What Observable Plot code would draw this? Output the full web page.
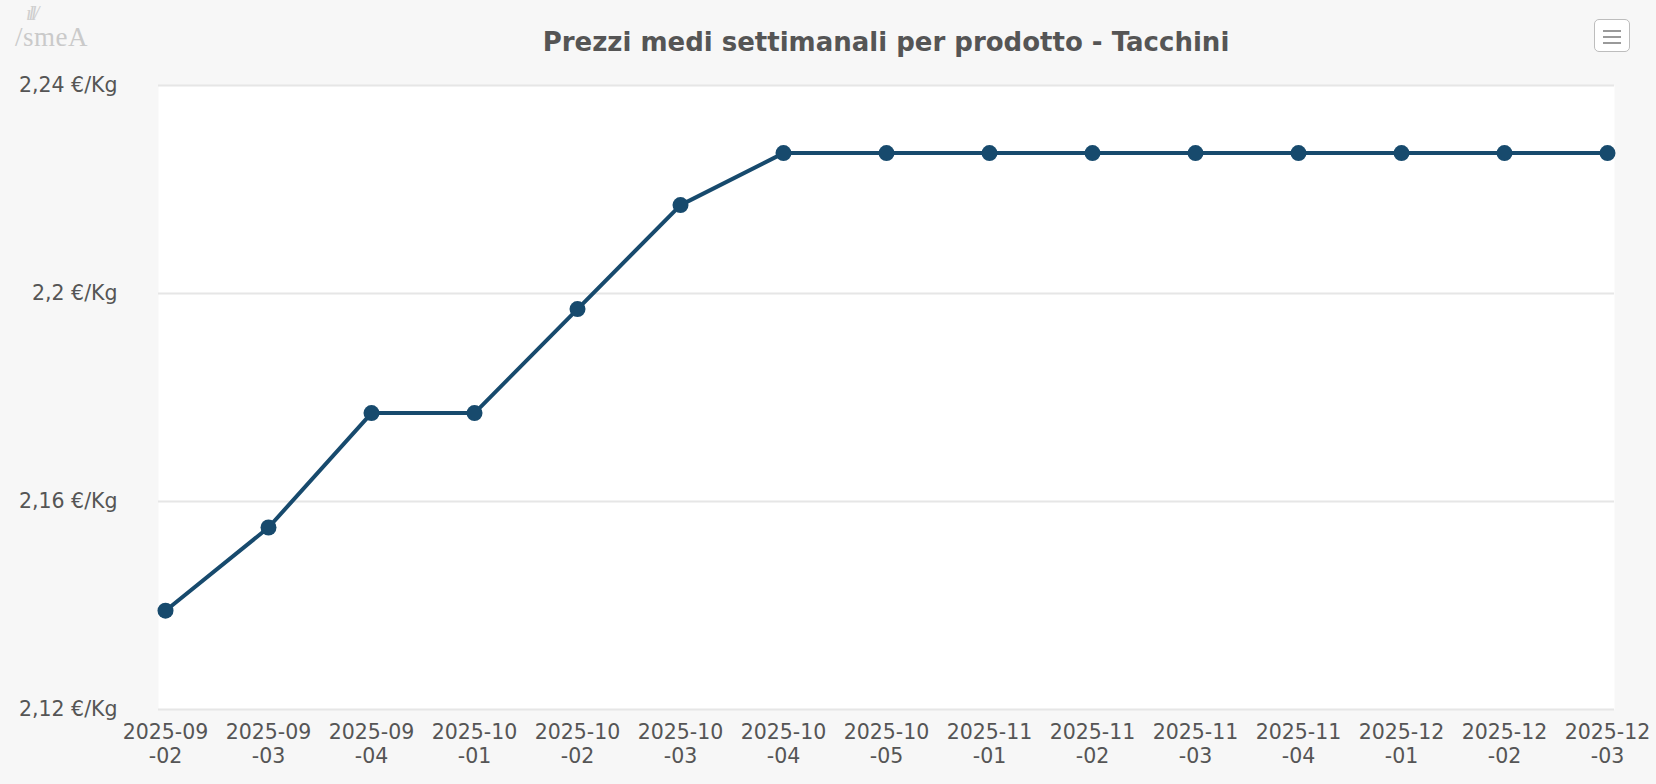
<!DOCTYPE html>
<html>
<head>
<meta charset="utf-8">
<script src="https://cdn.jsdelivr.net/npm/d3@7"></script>
<script src="https://cdn.jsdelivr.net/npm/@observablehq/plot@0.6"></script>
<style>
  html, body { margin: 0; padding: 0; background: #f7f7f7; }
  #page { position: relative; width: 1656px; height: 784px; overflow: hidden; font-family: "DejaVu Sans", Verdana, sans-serif; }
  #header { position: relative; height: 60px; }
  #title { position: absolute; left: 158px; width: 1456px; top: 27px; line-height: 30px; margin: 0;
           text-align: center; font-size: 26px; font-weight: bold; color: #555; white-space: nowrap; }
  #logo { position: absolute; left: 15px; top: 22px; font-family: "Liberation Serif", serif; font-size: 27px;
          color: #cacaca; letter-spacing: 0.5px; }
  #logo-mark { position: absolute; left: 26px; top: 2px; font-size: 20px; color: #cfcfcf; font-style: italic; letter-spacing: -3px;
               font-family: "Liberation Serif", serif; }
  #menu { position: absolute; left: 1594px; top: 19px; width: 34px; height: 31px; border: 1.5px solid #bdbdbd;
          border-radius: 5px; background: #fff; }
  #menu span { position: absolute; left: 8px; width: 18px; height: 2px; background: #9a9a9a; }
</style>
</head>
<body>
<div id="page">
  <div id="header">
    <div id="logo-mark">ıll/</div>
    <div id="logo">/smeA</div>
    <div id="title">Prezzi medi settimanali per prodotto - Tacchini</div>
    <div id="menu"><span style="top:10px"></span><span style="top:16px"></span><span style="top:22px"></span></div>
  </div>
  <div id="chart"></div>
</div>
<script>
const weeks = [
  "2025-09-02", "2025-09-03", "2025-09-04",
  "2025-10-01", "2025-10-02", "2025-10-03", "2025-10-04", "2025-10-05",
  "2025-11-01", "2025-11-02", "2025-11-03", "2025-11-04",
  "2025-12-01", "2025-12-02", "2025-12-03"
];
const prices = [
  2.139, 2.155, 2.177,
  2.177, 2.197, 2.217, 2.227, 2.227,
  2.227, 2.227, 2.227, 2.227,
  2.227, 2.227, 2.227
];
const yTicks = [2.12, 2.16, 2.2, 2.24];

const data = weeks.map((w, i) => ({week: w, price: prices[i]}));
const lineColor = "#174a6d";

const chart = Plot.plot({
  width: 1656,
  height: 724,
  marginTop: 25,
  marginBottom: 75,
  marginLeft: 158,
  marginRight: 42,
  style: {fontFamily: "DejaVu Sans, Verdana, sans-serif", fontSize: "20.5px", color: "#555", background: "transparent", overflow: "visible"},
  x: {type: "point", domain: weeks, padding: 0, insetLeft: 4, insetRight: 5, label: null},
  y: {domain: [2.12, 2.24], label: null},
  marks: [
    Plot.frame({fill: "white", stroke: null}),
    Plot.gridY(yTicks, {stroke: "#e6e6e6", strokeOpacity: 1, strokeWidth: 2}),
    Plot.axisY(yTicks, {
      tickSize: 0, tickPadding: 41, fontSize: 20.5, fill: "#555",
      tickFormat: d => String(d).replace(".", ",") + " €/Kg", label: null
    }),
    Plot.axisX({
      tickSize: 0, tickPadding: 13, fontSize: 20.5, fill: "#555", lineHeight: 1.15,
      tickFormat: d => d.replace(/-(\d\d)$/, "\n-$1"), label: null
    }),
    Plot.line(data, {x: "week", y: "price", stroke: lineColor, strokeWidth: 4}),
    Plot.dot(data, {x: "week", y: "price", r: 8, fill: lineColor, stroke: null})
  ]
});
document.getElementById("chart").appendChild(chart);
</script>
</body>
</html>
